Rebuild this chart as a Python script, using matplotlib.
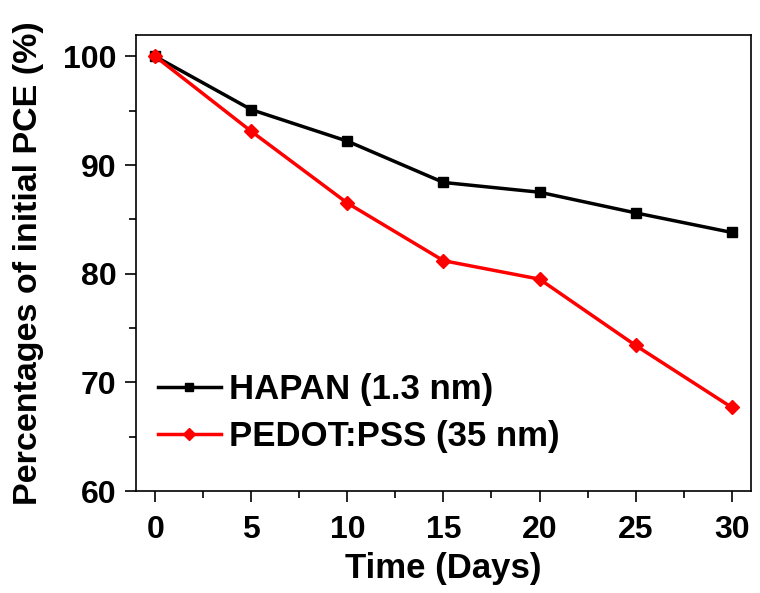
import numpy as np
import matplotlib
matplotlib.use("Agg")
import matplotlib.pyplot as plt
from matplotlib.ticker import MultipleLocator

plt.rcParams['font.family'] = ['Liberation Sans', 'DejaVu Sans']
plt.rcParams['font.weight'] = 'bold'

# data
days = [0, 5, 10, 15, 20, 25, 30]
hapan = [100, 95.1, 92.2, 88.4, 87.5, 85.6, 83.8]
pedot = [100, 93.1, 86.5, 81.2, 79.5, 73.4, 67.7]
labels = ["HAPAN (1.3 nm)", "PEDOT:PSS (35 nm)"]

fig = plt.figure(figsize=(7.6, 5.93), dpi=100)
ax = fig.add_axes([0.179, 0.172, 0.809, 0.7695])

ax.plot(days, hapan, color='black', lw=2.5, marker='s', ms=7.5, label=labels[0])
ax.plot(days, pedot, color='red', lw=2.5, marker='D', ms=7.5, label=labels[1])

ax.set_xlim(-1, 31)
ax.set_ylim(60, 102)
ax.xaxis.set_major_locator(MultipleLocator(5))
ax.xaxis.set_minor_locator(MultipleLocator(2.5))
ax.yaxis.set_major_locator(MultipleLocator(10))
ax.yaxis.set_minor_locator(MultipleLocator(5))
ax.tick_params(which='major', direction='out', length=8, width=1.2,
               labelsize=23)
ax.tick_params(axis='x', which='major', pad=9)
ax.tick_params(axis='y', which='major', pad=6)
ax.tick_params(which='minor', direction='out', length=5, width=1.2)
for s in ax.spines.values():
    s.set_linewidth(1.2)

ax.set_xlabel("Time (Days)", fontsize=25, fontweight='bold', labelpad=5)
ax.set_ylabel("Percentages of initial PCE (%)", fontsize=24.5, fontweight='bold', labelpad=14)

ax.legend(loc='lower left', bbox_to_anchor=(-0.015, 0.015), frameon=False,
          fontsize=25, handlelength=1.8, handletextpad=0.25, labelspacing=0.4,
          markerscale=0.75)

fig.savefig("out.png", dpi=100)
